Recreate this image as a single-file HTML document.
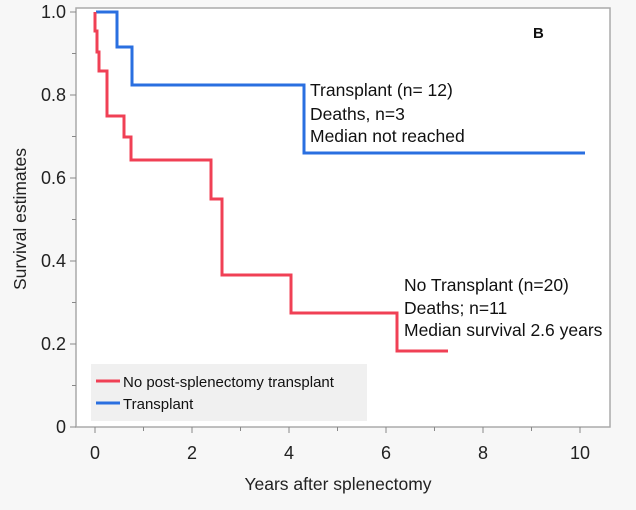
<!DOCTYPE html>
<html><head><style>
body{margin:0;background:#f7f7f7;}
svg{display:block;font-family:"Liberation Sans",sans-serif;}
</style></head><body>
<svg width="636" height="510" viewBox="0 0 636 510">
<rect width="636" height="510" fill="#f7f7f7"/>
<rect x="76" y="8" width="534" height="419" fill="#fff" stroke="#aaa" stroke-width="1.5"/>
<rect x="91" y="364" width="276" height="57" fill="#f0f0f0"/>
<g stroke="#888" stroke-width="1">
<line x1="70" y1="12" x2="76" y2="12"/><line x1="72" y1="53.5" x2="76" y2="53.5"/>
<line x1="70" y1="95" x2="76" y2="95"/><line x1="72" y1="136.5" x2="76" y2="136.5"/>
<line x1="70" y1="178" x2="76" y2="178"/><line x1="72" y1="219.5" x2="76" y2="219.5"/>
<line x1="70" y1="261" x2="76" y2="261"/><line x1="72" y1="302.5" x2="76" y2="302.5"/>
<line x1="70" y1="344" x2="76" y2="344"/><line x1="72" y1="385.5" x2="76" y2="385.5"/>
<line x1="70" y1="427" x2="76" y2="427"/>
<line x1="95" y1="427" x2="95" y2="433"/><line x1="143.5" y1="427" x2="143.5" y2="431"/>
<line x1="192" y1="427" x2="192" y2="433"/><line x1="240.5" y1="427" x2="240.5" y2="431"/>
<line x1="289" y1="427" x2="289" y2="433"/><line x1="337.5" y1="427" x2="337.5" y2="431"/>
<line x1="386" y1="427" x2="386" y2="433"/><line x1="434.5" y1="427" x2="434.5" y2="431"/>
<line x1="483" y1="427" x2="483" y2="433"/><line x1="531.5" y1="427" x2="531.5" y2="431"/>
<line x1="580" y1="427" x2="580" y2="433"/>
</g>
<g font-size="18" fill="#222" text-anchor="end">
<text x="66" y="18">1.0</text><text x="66" y="101">0.8</text><text x="66" y="184">0.6</text>
<text x="66" y="267">0.4</text><text x="66" y="350">0.2</text><text x="66" y="433">0</text>
</g>
<g font-size="18" fill="#222" text-anchor="middle">
<text x="95" y="459">0</text><text x="192" y="459">2</text><text x="289" y="459">4</text>
<text x="386" y="459">6</text><text x="483" y="459">8</text><text x="580" y="459">10</text>
<text x="338" y="490" font-size="17.5">Years after splenectomy</text>
<text transform="translate(26 219) rotate(-90)" font-size="17.5">Survival estimates</text>
</g>
<polyline fill="none" stroke="#2a6fe0" stroke-width="3" points="96,12 117,12 117,47 132,47 132,85 304,85 304,153 585,153"/>
<polyline fill="none" stroke="#f04055" stroke-width="3" points="95,12 95,31 97,31 97,52 99,52 99,71 107,71 107,116 124,116 124,137 131,137 131,160 211,160 211,199 222,199 222,275 291,275 291,313 397,313 397,351 448,351"/>
<text x="533" y="38" font-size="15" font-weight="bold" fill="#111">B</text>
<g font-size="17.5" fill="#111">
<text x="310" y="96">Transplant  (n= 12)</text>
<text x="310" y="120">Deaths, n=3</text>
<text x="310" y="142">Median not reached</text>
<text x="404" y="291">No Transplant (n=20)</text>
<text x="404" y="314">Deaths; n=11</text>
<text x="404" y="336">Median survival 2.6 years</text>
<text x="123" y="387" font-size="15">No post-splenectomy transplant</text>
<text x="123" y="409" font-size="15">Transplant</text>
</g>
<line x1="96" y1="381" x2="120" y2="381" stroke="#f04055" stroke-width="3"/>
<line x1="96" y1="403" x2="120" y2="403" stroke="#2a6fe0" stroke-width="3"/>
</svg>
</body></html>
